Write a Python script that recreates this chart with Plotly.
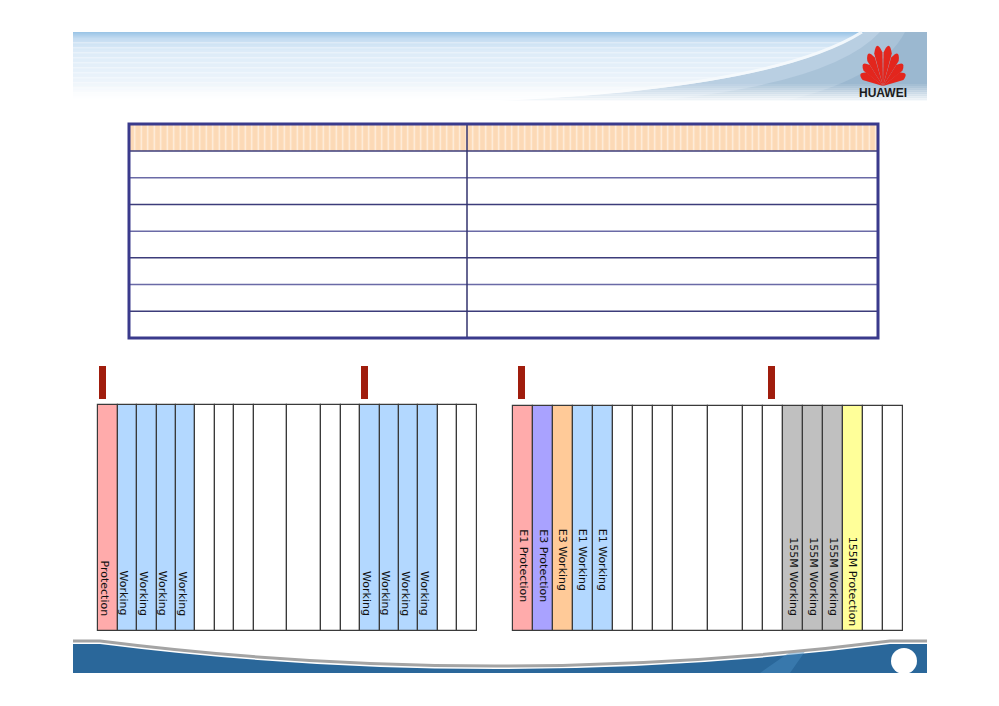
import math
import plotly.graph_objects as go

W, H = 999, 706
PAGE_OFFSET = 8  # body margin of the written page

# ---- data ----
table_columns = ["", ""]
table_rows = [["", ""], ["", ""], ["", ""], ["", ""], ["", ""], ["", ""], ["", ""]]

slot_units = [1, 1, 1, 1, 1, 1, 1, 1, 1.75, 1.75, 1, 1, 1, 1, 1, 1, 1, 1]

left_labels = ["Protection", "Working", "Working", "Working", "Working",
               "", "", "", "", "", "", "",
               "Working", "Working", "Working", "Working", "", ""]
left_kinds = ["prot", "work", "work", "work", "work",
              "", "", "", "", "", "", "",
              "work", "work", "work", "work", "", ""]
left_marker_slots = [0, 12]

right_labels = ["E1 Protection", "E3 Protection", "E3 Working", "E1 Working", "E1 Working",
                "", "", "", "", "", "", "",
                "155M Working", "155M Working", "155M Working", "155M Protection", "", ""]
right_kinds = ["prot", "e3p", "e3w", "work", "work",
               "", "", "", "", "", "", "",
               "stm", "stm", "stm", "stmp", "", ""]
right_marker_slots = [0, 11]

kind_colors = {"prot": "#ffabab", "work": "#b3d8ff", "e3p": "#a9a2ff",
               "e3w": "#ffca98", "stm": "#c0c0c0", "stmp": "#ffff99", "": "#ffffff"}

FONT = "Liberation Sans, Arial, sans-serif"
LABEL_FONT = "DejaVu Sans, Verdana, sans-serif"

fig = go.Figure()
shapes = []
annotations = []


def rect(x0, y0, x1, y1, fill, line=None, lw=0, opacity=1.0, layer="below"):
    shapes.append(dict(type="rect", xref="x", yref="y", x0=x0, y0=y0, x1=x1, y1=y1,
                       fillcolor=fill, opacity=opacity, layer=layer,
                       line=dict(color=line or fill, width=lw)))


def path(d, fill=None, line=None, lw=0, opacity=1.0, layer="below"):
    s = dict(type="path", xref="x", yref="y", path=d, opacity=opacity, layer=layer,
             line=dict(color=line or "rgba(0,0,0,0)", width=lw))
    if fill:
        s["fillcolor"] = fill
    shapes.append(s)


def mix(c1, c2, t):
    a = [int(c1[i:i + 2], 16) for i in (1, 3, 5)]
    b = [int(c2[i:i + 2], 16) for i in (1, 3, 5)]
    return "#%02x%02x%02x" % tuple(round(a[k] + (b[k] - a[k]) * t) for k in range(3))


# ---- top banner ----
stops = [(32, "#9cc5e6"), (38, "#c4dcf1"), (50, "#dcebf8"), (75, "#e9f2fa"), (92, "#f4f8fc"), (102, "#ffffff")]
for i in range(len(stops) - 1):
    (ya, ca), (yb, cb) = stops[i], stops[i + 1]
    n = max(1, int(yb - ya))
    for k in range(n):
        y = ya + k * (yb - ya) / n
        rect(73, y, 927, y + (yb - ya) / n + 0.3, mix(ca, cb, k / n))
for y in range(42, 96, 5):
    rect(73, y, 927, y + 1.5, "#ffffff", opacity=0.35)
# swoosh on the right
path("M 470,102 Q 770,92 864,32 L 927,32 L 927,102 Z", fill="#b9cfe2")
path("M 640,102 Q 830,86 880,32 L 927,32 L 927,102 Z", fill="#a5bfd6", opacity=0.8)
path("M 780,102 Q 880,80 905,32 L 927,32 L 927,102 Z", fill="#93b1cb", opacity=0.6)
path("M 470,100 Q 770,90 862,32", line="#f6fafd", lw=3, opacity=0.9)
for k in range(9):
    y = 84 + k * 2
    rect(73, y, 927, y + 2.2, "#ffffff", opacity=0.1 + 0.1 * k)
rect(73, 101, 930, 106, "#ffffff")

# Huawei fan
px, py = 883, 86
for th in (-62, -42, -24, -8, 8, 24, 42, 62):
    t = math.radians(th)
    r = 1 / math.sqrt((math.sin(t) / 26) ** 2 + (math.cos(t) / 46) ** 2)
    dx, dy = math.sin(t), -math.cos(t)
    nx, ny = math.cos(t), math.sin(t)
    w = 4.2
    m = 0.74 * r
    a = (px + m * dx + w * nx, py + m * dy + w * ny)
    b = (px + m * dx - w * nx, py + m * dy - w * ny)
    tip = (px + 1.06 * r * dx, py + 1.06 * r * dy)
    path("M %.1f,%.1f L %.1f,%.1f Q %.1f,%.1f %.1f,%.1f Z" % (px, py, a[0], a[1], tip[0], tip[1], b[0], b[1]),
         fill="#e3261d")
annotations.append(dict(x=883, y=93, xref="x", yref="y", text="<b>HUAWEI</b>", showarrow=False,
                        font=dict(family=FONT, size=12, color="#1b1b1b")))

# ---- bottom banner ----
path("M 73,644 L 100,644 Q 495,694 890,644 L 927,644 L 927,673 L 73,673 Z", fill="#2a679a")
path("M 760,673 L 790,652 L 806,650 L 790,673 Z", fill="#4a8fc4", opacity=0.45)
path("M 73,641 L 100,641 Q 495,691 890,641 L 927,641", line="#a4a4a4", lw=3)
shapes.append(dict(type="circle", xref="x", yref="y", x0=891, y0=648, x1=917, y1=674,
                   fillcolor="#ffffff", line=dict(width=0), layer="below"))
rect(880, 673, 930, 680, "#ffffff")

# ---- table ----
tx0, tx1, ty0, ty1 = 129, 878, 124, 338
col_split = 467
head_h = 27
row_h = (ty1 - ty0 - head_h) / len(table_rows)
col_edges = [tx0, col_split, tx1]
fig.add_trace(go.Bar(
    x=[(col_edges[i] + col_edges[i + 1]) / 2 for i in range(len(table_columns))],
    width=[col_edges[i + 1] - col_edges[i] for i in range(len(table_columns))],
    y=[head_h] * len(table_columns), base=[ty0] * len(table_columns),
    text=table_columns, textposition="none",
    marker=dict(color="#fcd9b6", line=dict(width=0),
                pattern=dict(shape="|", size=6.5, solidity=0.2, fgcolor="#fff3e6", fgopacity=0.9)),
    hoverinfo="skip", showlegend=False))
for i in range(len(table_rows)):
    y = ty0 + head_h + i * row_h
    shapes.append(dict(type="line", xref="x", yref="y", x0=tx0, x1=tx1, y0=y, y1=y, layer="above",
                       line=dict(color="#3c3c7a" if i % 2 == 0 else "#6a6aa6", width=1.5)))
shapes.append(dict(type="line", xref="x", yref="y", x0=col_split, x1=col_split, y0=ty0, y1=ty1,
                   layer="above", line=dict(color="#33336e", width=1.5)))
shapes.append(dict(type="rect", xref="x", yref="y", x0=tx0, x1=tx1, y0=ty0, y1=ty1, layer="above",
                   line=dict(color="#3a3a8c", width=3)))


# ---- slot boards ----
def board(x0, unit, top, bottom, labels, kinds, marker_slots, marker_dx, label_dx, label_y, label_anchor):
    lefts = []
    x = x0
    for u in slot_units:
        lefts.append(x)
        x += u * unit
    widths = [u * unit for u in slot_units]
    centers = [l + w / 2 for l, w in zip(lefts, widths)]
    fig.add_trace(go.Bar(
        x=centers, width=widths, y=[bottom - top] * len(centers), base=[top] * len(centers),
        marker=dict(color=[kind_colors[k] for k in kinds], line=dict(color="#3a3a3a", width=1.2)),
        hoverinfo="skip", showlegend=False))
    mx = [lefts[s] + marker_dx + 3.5 for s in marker_slots]
    fig.add_trace(go.Bar(
        x=mx, width=[7] * len(mx), y=[33] * len(mx), base=[366] * len(mx),
        marker=dict(color="#a01d0d", line=dict(width=0)),
        hoverinfo="skip", showlegend=False))
    for c, lab in zip(centers, labels):
        if not lab:
            continue
        yy, anc = label_y, label_anchor
        if lab.startswith("155M"):
            yy, anc = 535, "top"
        annotations.append(dict(x=c + label_dx, y=yy, xref="x", yref="y", text=lab, textangle=90,
                                showarrow=False, yanchor=anc, xanchor="center",
                                font=dict(family=LABEL_FONT, size=11, color="#111111")))


board(98.3, 19.4, 405, 631, left_labels, left_kinds, left_marker_slots, 0.5, -3.5, 618, "bottom")
board(513.3, 20.0, 405.5, 631, right_labels, right_kinds, right_marker_slots, 4.5, 0, 527, "top")

fig.update_layout(
    width=W, height=H, margin=dict(l=0, r=0, t=0, b=0),
    paper_bgcolor="#ffffff", plot_bgcolor="#ffffff",
    barmode="overlay", bargap=0,
    xaxis=dict(range=[PAGE_OFFSET, W + PAGE_OFFSET], visible=False, fixedrange=True),
    yaxis=dict(range=[H + PAGE_OFFSET, PAGE_OFFSET], visible=False, fixedrange=True),
    shapes=shapes, annotations=annotations,
)

fig.write_html("out.html", config={"displayModeBar": False})
